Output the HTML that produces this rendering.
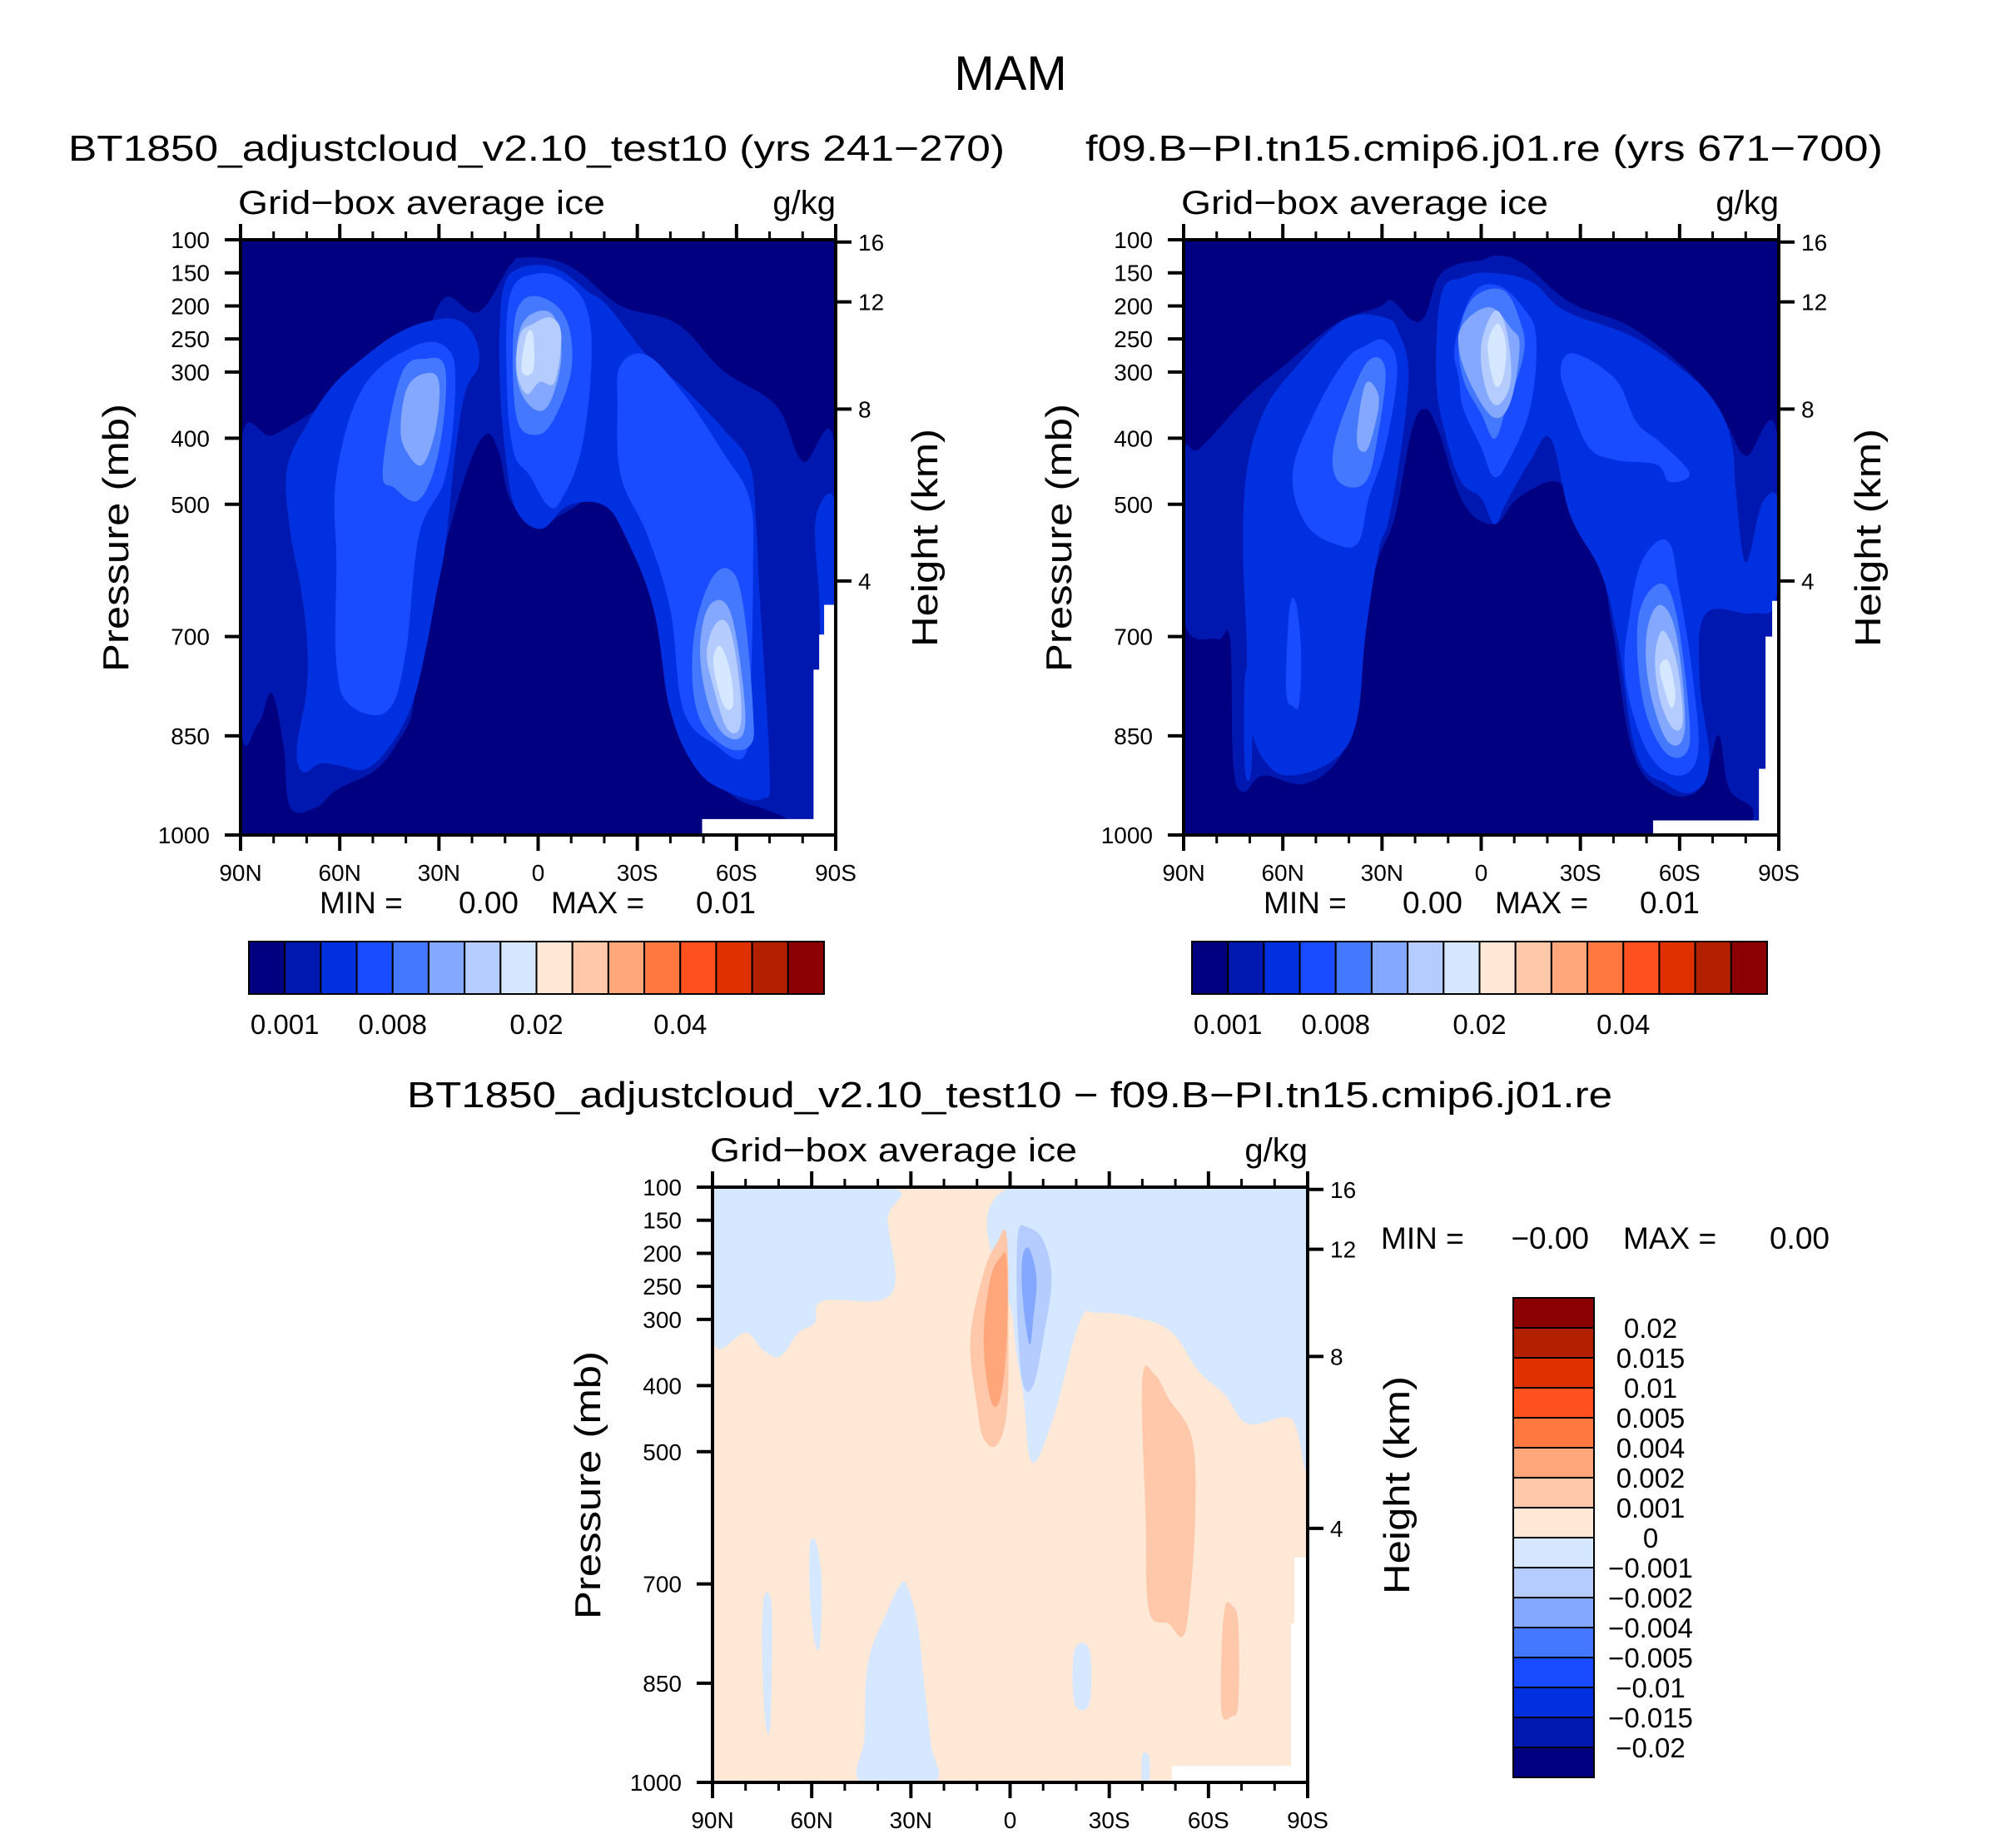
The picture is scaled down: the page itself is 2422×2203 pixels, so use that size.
<!DOCTYPE html>
<html><head><meta charset="utf-8">
<style>
html,body{margin:0;padding:0;background:#fff;}
svg{display:block;font-family:"Liberation Sans",Arial,sans-serif;}
</style></head>
<body>
<svg id="fig" width="2422" height="2203" viewBox="0 0 2422 2203" xmlns="http://www.w3.org/2000/svg">
<rect x="0" y="0" width="2422" height="2203" fill="#fff"/>
<text x="1214" y="108" font-size="58" text-anchor="middle">MAM</text>
<text x="82" y="193" font-size="44" textLength="1125" lengthAdjust="spacingAndGlyphs">BT1850_adjustcloud_v2.10_test10 (yrs 241−270)</text>
<text x="1304" y="193" font-size="44" textLength="958" lengthAdjust="spacingAndGlyphs">f09.B−PI.tn15.cmip6.j01.re (yrs 671−700)</text>
<text x="489" y="1330" font-size="44" textLength="1448" lengthAdjust="spacingAndGlyphs">BT1850_adjustcloud_v2.10_test10 − f09.B−PI.tn15.cmip6.j01.re</text>
<g id="panels"></g>
</svg>
<script>
// ---------- data ----------
const pressureTicks = [100,150,200,250,300,400,500,700,850,1000];
const heightTicksKm = [16,12,8,4];
const heightTicksP = [103.5,194,356,616];
const latTicksMajor = [90,60,30,0,-30,-60,-90];
const latTickLabels = ["90N","60N","30N","0","30S","60S","90S"];
const latTicksMinor = [80,70,50,40,20,10,-10,-20,-40,-50,-70,-80];
const iceColors = ["#000080","#0018B0","#0030E0","#1A4CFF","#4478FF","#84A8FF","#B4CCFF","#D6E8FF","#FFE8D6","#FFC8AA","#FFA67A","#FF7840","#FF5020","#E03000","#B22000","#8B0000"];
const iceLabels = ["0.001","0.008","0.02","0.04"];
const iceLabelBoundaries = [1,4,8,12];
const diffColors = ["#8B0000","#B22000","#E03000","#FF5020","#FF7840","#FFA67A","#FFC8AA","#FFE8D6","#D6E8FF","#B4CCFF","#84A8FF","#4478FF","#1A4CFF","#0030E0","#0018B0","#000080"];
const diffLabels = ["0.02","0.015","0.01","0.005","0.004","0.002","0.001","0","−0.001","−0.002","−0.004","−0.005","−0.01","−0.015","−0.02"];

// contour regions: [colorIndex, [[lat,p],...]]
const leftFieldRegions = [
 [1,[[90,413],[80,395],[65,350],[45,280],[35,250],[28,187],[18,209],[8.4,138],[4.5,127],[-5,131],[-13,151],[-25,200],[-42,227],[-56,298],[-72,351],[-80,435],[-90,426],[-90,1000],[-82,1000],[-75,975],[-68,960],[-60,945],[-52,905],[-40,812],[-36,658],[-28,546],[-20,484],[-9,510],[0.5,533],[8.4,493],[12,419],[16,395],[22,457],[30,599],[36,723],[38,812],[42,856],[49,901],[61,932],[67,958],[75,958],[77,865],[80.6,785],[84.5,830],[90,830]]],
 [2,[[76,448],[70,380],[62,320],[52,275],[42,240],[32,222],[24,222],[19,250],[18,290],[22,330],[25,420],[28,560],[31,640],[34,720],[38,800],[44,860],[52,900],[60,895],[66,892],[71,905],[73,870],[70,780],[70,700],[72,620],[75,540]]],
 [2,[[11.5,218],[10,165],[6.5,145],[0,138],[-7,147],[-15,178],[-21,200],[-33,275],[-44,324],[-56,386],[-64,440],[-66,537],[-67,635],[-70,901],[-68,945],[-58,936],[-48,901],[-40,812],[-35,660],[-27,555],[-20,502],[-9,502],[-1,537],[6.5,510],[9.5,440],[11.5,324]]],
 [2,[[-84,520],[-90,500],[-90,720],[-86,730],[-85,640]]],
 [3,[[61,457],[53,324],[38,262],[28,262],[25,315],[28,457],[36,546],[40,723],[45.5,812],[57,803],[61,741],[61,590]]],
 [3,[[9.5,312],[8.4,182],[0,151],[-9,165],[-15,209],[-16,298],[-13,419],[-7,493],[-3,502],[2.5,457],[7.5,419]]],
 [3,[[-24,350],[-25,289],[-33,275],[-44,333],[-56,422],[-64,493],[-65,600],[-64,812],[-62,883],[-54,865],[-44,812],[-40,660],[-33,546],[-25,457]]],
 [4,[[47,448],[41.6,306],[34,280],[28,298],[30,419],[36,493],[43.5,475]]],
 [4,[[7.5,244],[4.5,191],[-3,191],[-9,227],[-10,298],[-5,369],[0.5,395],[6.5,369]]],
 [4,[[-47,705],[-52,617],[-58,599],[-62,652],[-65,812],[-64,865],[-56,865],[-48,812]]],
 [5,[[41.6,386],[39.6,324],[34,302],[30,315],[31,386],[35,440],[39.6,422]]],
 [5,[[6.5,306],[5.5,236],[0.5,209],[-5,218],[-7,280],[-3,351],[2.5,351]]],
 [5,[[-49,714],[-52,652],[-58,661],[-62,776],[-62,847],[-56,847],[-51,794]]],
 [6,[[6.5,298],[5.5,244],[1.5,227],[-4,218],[-7,244],[-5,315],[-0.5,315],[3.5,333]]],
 [6,[[-51,723],[-54,679],[-58,688],[-61,776],[-61,838],[-57,838],[-53,776]]],
 [7,[[5,298],[3.5,244],[1.5,244],[1.5,298]]],
 [7,[[-53,741],[-55,714],[-58,750],[-59,803],[-56,803]]]
];
const leftMissing = [[-88.2,652],[-90,652],[-90,1000],[-49.6,1000],[-49.6,976],[-83.3,976],[-83.3,750],[-85,750],[-85,697],[-86.5,697],[-86.5,652]];

const rightFieldRegions = [
 [1,[[90,430],[85,415],[70,334],[60,292],[44,227],[31,202],[27,192],[21,221],[17,215],[13,157],[7,137],[0,131],[-5,124],[-13,137],[-27,195],[-46,234],[-65,311],[-74,376],[-80,427],[-90,414],[-90,1000],[-82,1000],[-82,960],[-75,930],[-72,850],[-69,891],[-65,935],[-56,935],[-46,877],[-40,697],[-36,594],[-28,523],[-23,466],[-11,491],[-4,530],[5.4,498],[13,388],[17,356],[21,388],[26,517],[31,581],[35,665],[39,826],[44,891],[54,923],[66,910],[72,935],[75,891],[76,704],[80,704],[90,672]]],
 [2,[[72,569],[71,453],[66,363],[57,298],[41.5,221],[29,218],[25,240],[22,298],[24,408],[28,524],[31,569],[35,697],[37.6,826],[44,884],[57,910],[65,891],[70,826],[71,697]]],
 [2,[[71.5,765],[69.5,760],[69.5,900],[71.5,900]]],
 [2,[[13.6,311],[12,182],[5.4,157],[-2.6,150],[-15,163],[-25.5,208],[-46,247],[-63,305],[-72,356],[-76,414],[-77,478],[-80,588],[-85,498],[-90,498],[-89,646],[-82,665],[-68,665],[-66,762],[-69,891],[-64,935],[-56,923],[-47,877],[-41,697],[-36,601],[-27,517],[-21,401],[-15,433],[-7.5,498],[-4,530],[0,491],[6,466],[10.5,401]]],
 [3,[[57,453],[50.5,363],[41.5,285],[35,260],[29,253],[25.4,298],[29,414],[34,491],[37,556],[43,562],[53,530]]],
 [3,[[58,659],[56,650],[54.5,720],[55,800],[57,805],[59,780]]],
 [3,[[8,260],[2.6,182],[-5,169],[-12.6,202],[-16.6,247],[-15,350],[-9,427],[-4,459],[0,414],[5.4,356],[6.7,311]]],
 [3,[[-24,298],[-28,272],[-40.6,311],[-47,376],[-54.6,408],[-63,453],[-57,466],[-53,440],[-40.6,433],[-32.6,414],[-27,350]]],
 [3,[[-45,665],[-49,582],[-56.5,556],[-60,633],[-64,762],[-65.5,878],[-59,910],[-50,871],[-43.6,762]]],
 [4,[[44.6,414],[38,318],[33,279],[29,298],[31,388],[35,466],[43,466]]],
 [4,[[6.7,247],[2.6,189],[-6.5,176],[-11.6,221],[-12.9,272],[-7.5,356],[-4,401],[0,363],[5.4,311]]],
 [4,[[-47.5,672],[-54,620],[-59,665],[-63,826],[-61.6,878],[-55,871],[-48.8,794]]],
 [5,[[37.6,401],[35,318],[31,337],[32.5,388],[35,420]]],
 [5,[[6.7,266],[5.4,227],[-2.6,202],[-9,234],[-11.6,260],[-9,343],[-4,369],[2.6,324]]],
 [5,[[-50,697],[-54,652],[-59,697],[-61.6,839],[-56.5,859],[-51,781]]],
 [6,[[0,260],[-4,208],[-7.5,234],[-9,311],[-5,350],[-1.3,324]]],
 [6,[[-52.6,730],[-55,691],[-59,736],[-61,826],[-58,839],[-54,794]]],
 [7,[[-2,260],[-5,227],[-7.5,260],[-6.5,311],[-4,318]]],
 [7,[[-54,749],[-56.5,736],[-58.5,775],[-58.5,800],[-57,804]]]
];
const rightMissing = [[-88,646],[-90,646],[-90,1000],[-52,1000],[-52,978],[-84,978],[-84,900],[-86,900],[-86,700],[-88,700]];

// diff field: colour indices into iceColors
const diffRegions = [
 [7,[[90,100],[37,100],[37,150],[36,262],[56.5,272],[59,305],[64,320],[69.6,356],[75,345],[80,320],[90,330]]],
 [7,[[0,100],[-90,100],[-90,509],[-85,450],[-72,458],[-65,414],[-57,378],[-49,320],[-39,298],[-26,290],[-21,305],[-13,450],[-6.6,516],[-4,414],[-1,305]]],
 [6,[[-2.5,167],[-5,160],[-10,180],[-12.5,240],[-10,330],[-7,400],[-4,400],[-2.5,330],[-2,240]]],
 [5,[[-4,200],[-6,195],[-8,240],[-7,300],[-6,338],[-4.5,300],[-3.5,240]]],
 [9,[[1,175],[4,185],[8,230],[12,330],[10,430],[8,480],[4,490],[1,440],[0.5,330]]],
 [10,[[1,210],[3,207],[6,240],[8,330],[6,420],[3,420],[1,330]]],
 [9,[[-40,390],[-44,385],[-48,420],[-55,480],[-56,600],[-54,740],[-52,780],[-48,760],[-42,740],[-41,600]]],
 [9,[[-65,735],[-67,732],[-69,760],[-69,880],[-67,900],[-64,895],[-64,800]]],
 [7,[[74.5,722],[72.5,720],[72,770],[72.5,910],[74,910],[75,800]]],
 [7,[[60.5,640],[58.5,640],[57,700],[57.5,790],[59,790],[60.5,720]]],
 [7,[[33,700],[31,705],[28,760],[26,850],[24,940],[23,1000],[45,1000],[44,930],[43,820],[37,740]]],
 [7,[[-19.5,800],[-24,800],[-24,880],[-19.5,880]]],
 [7,[[-40,960],[-42,960],[-42,1000],[-40,1000]]]
];
const diffMissing = [[-86,660],[-90,660],[-90,1000],[-49,1000],[-49,975],[-85,975],[-85,760],[-86,760]];

// ---------- drawing ----------
const NS = "http://www.w3.org/2000/svg";
const root = document.getElementById('panels');
function mk(tag, attrs, parent){
  const e = document.createElementNS(NS, tag);
  for (const k in attrs) e.setAttribute(k, attrs[k]);
  (parent||root).appendChild(e);
  return e;
}
function smoothPath(pts){
  const n = pts.length; let d = "M"+pts[0][0].toFixed(1)+","+pts[0][1].toFixed(1);
  for (let i=0;i<n;i++){
    const p0=pts[(i-1+n)%n], p1=pts[i], p2=pts[(i+1)%n], p3=pts[(i+2)%n];
    const t=0.18;
    const c1=[p1[0]+(p2[0]-p0[0])*t, p1[1]+(p2[1]-p0[1])*t];
    const c2=[p2[0]-(p3[0]-p1[0])*t, p2[1]-(p3[1]-p1[1])*t];
    d+=" C"+c1[0].toFixed(1)+","+c1[1].toFixed(1)+" "+c2[0].toFixed(1)+","+c2[1].toFixed(1)+" "+p2[0].toFixed(1)+","+p2[1].toFixed(1);
  }
  return d+"Z";
}

function drawPanel(cfg){
  const W=715, H=715;
  const xs = lat => cfg.x + (90-lat)/180*W;
  const yp = p => cfg.y + (p-100)/900*H;
  const g = mk('g',{});
  
  
  const cid = 'clip-'+cfg.name;
  const cp = mk('clipPath',{id:cid},g);
  mk('rect',{x:cfg.x,y:cfg.y,width:W,height:H},cp);
  const field = mk('g',{'clip-path':'url(#'+cid+')'},g);
  
  
  const bg = mk('rect',{x:cfg.x,y:cfg.y,width:W,height:H,fill:cfg.bg},field);
  
  
  cfg.regions.forEach(r=>{
    const pts = r[1].map(q=>[xs(q[0]), yp(q[1])]);
    const path = mk('path',{d:smoothPath(pts), fill:iceColors[r[0]]},field);
    
    
  });
  const miss = mk('polygon',{points:cfg.missing.map(q=>xs(q[0])+","+yp(q[1])).join(" "),fill:"#fff"},field);
  
  
  const fr = mk('rect',{x:cfg.x,y:cfg.y,width:W,height:H,fill:'none',stroke:'#000','stroke-width':4},g);
  
  
  latTicksMajor.forEach((lat,i)=>{
    const x=xs(lat);
    mk('line',{x1:x,y1:cfg.y,x2:x,y2:cfg.y-19,stroke:'#000','stroke-width':4},g);
    mk('line',{x1:x,y1:cfg.y+H,x2:x,y2:cfg.y+H+19,stroke:'#000','stroke-width':4},g);
    const t = mk('text',{x:x,y:cfg.y+H+55,'font-size':28,'text-anchor':'middle'},g);
    t.textContent = latTickLabels[i];
    
    
  });
  latTicksMinor.forEach(lat=>{
    const x=xs(lat);
    mk('line',{x1:x,y1:cfg.y,x2:x,y2:cfg.y-10,stroke:'#000','stroke-width':3},g);
    mk('line',{x1:x,y1:cfg.y+H,x2:x,y2:cfg.y+H+10,stroke:'#000','stroke-width':3},g);
  });
  pressureTicks.forEach(p=>{
    const y=yp(p);
    mk('line',{x1:cfg.x,y1:y,x2:cfg.x-19,y2:y,stroke:'#000','stroke-width':4},g);
    const t = mk('text',{x:cfg.x-37,y:y+10,'font-size':28,'text-anchor':'end'},g);
    t.textContent = p;
    
    
  });
  heightTicksKm.forEach((km,i)=>{
    const y=yp(heightTicksP[i]);
    mk('line',{x1:cfg.x+W,y1:y,x2:cfg.x+W+19,y2:y,stroke:'#000','stroke-width':4},g);
    const t = mk('text',{x:cfg.x+W+27,y:y+10,'font-size':28},g);
    t.textContent = km;
    
    
  });
  const l1 = mk('text',{x:cfg.x-3,y:cfg.y-31,'font-size':40,textLength:441,lengthAdjust:'spacingAndGlyphs'},g);
  l1.textContent='Grid−box average ice';
  
  
  const l2 = mk('text',{x:cfg.x+W,y:cfg.y-31,'font-size':40,'text-anchor':'end'},g);
  l2.textContent='g/kg';
  
  
  const yt = mk('text',{x:0,y:0,'font-size':44,'text-anchor':'middle',textLength:322,lengthAdjust:'spacingAndGlyphs',transform:'translate('+(cfg.x-135)+','+(cfg.y+358)+') rotate(-90)'},g);
  yt.textContent='Pressure (mb)';
  
  
  const ht = mk('text',{x:0,y:0,'font-size':44,'text-anchor':'middle',textLength:262,lengthAdjust:'spacingAndGlyphs',transform:'translate('+(cfg.x+W+122)+','+(cfg.y+358)+') rotate(-90)'},g);
  ht.textContent='Height (km)';
  
  
}

function drawStats(x0,y,minv,maxv,name,offs){
  const g = mk('g',{'font-size':37});
  
  
  const a=mk('text',{x:x0,y:y},g); a.textContent='MIN =';
  const b=mk('text',{x:x0+offs[0],y:y,'text-anchor':'end'},g); b.textContent=minv;
  const c=mk('text',{x:x0+offs[1],y:y},g); c.textContent='MAX =';
  const d=mk('text',{x:x0+offs[2],y:y,'text-anchor':'end'},g); d.textContent=maxv;
}

function drawHColorbar(x,y,name){
  const g = mk('g',{});
  
  
  const w=691, h=63, bw=w/iceColors.length;
  iceColors.forEach((c,i)=>{
    const r = mk('rect',{x:x+i*bw,y:y,width:bw,height:h,fill:c,stroke:'#000','stroke-width':2},g);
    
    
  });
  iceLabels.forEach((lab,i)=>{
    const t = mk('text',{x:x+iceLabelBoundaries[i]*bw,y:y+h+48,'font-size':33,'text-anchor':'middle'},g);
    t.textContent = lab;
    
    
  });
}
function drawVColorbar(x,y,name){
  const g = mk('g',{});
  
  
  const w=97, h=576, bh=h/diffColors.length;
  diffColors.forEach((c,i)=>{
    const r = mk('rect',{x:x,y:y+i*bh,width:w,height:bh,fill:c,stroke:'#000','stroke-width':2},g);
    
    
  });
  diffLabels.forEach((lab,i)=>{
    const t = mk('text',{x:x+165,y:y+(i+1)*bh+12,'font-size':33,'text-anchor':'middle'},g);
    t.textContent = lab;
    
    
  });
}

drawPanel({name:'left-panel',x:289,y:288,bg:iceColors[0],regions:leftFieldRegions,missing:leftMissing});
drawPanel({name:'right-panel',x:1422,y:288,bg:iceColors[0],regions:rightFieldRegions,missing:rightMissing});
drawPanel({name:'diff-panel',x:856,y:1426,bg:iceColors[8],regions:diffRegions,missing:diffMissing});
drawStats(384,1097,'0.00','0.01','left-min-max',[239,278,524]);
drawStats(1518,1097,'0.00','0.01','right-min-max',[239,278,524]);
drawStats(1659,1500,'−0.00','0.00','diff-min-max',[250,291,539]);
drawHColorbar(299,1131,'left-colorbar');
drawHColorbar(1432,1131,'right-colorbar');
drawVColorbar(1818,1559,'diff-colorbar');
</script>
</body></html>
